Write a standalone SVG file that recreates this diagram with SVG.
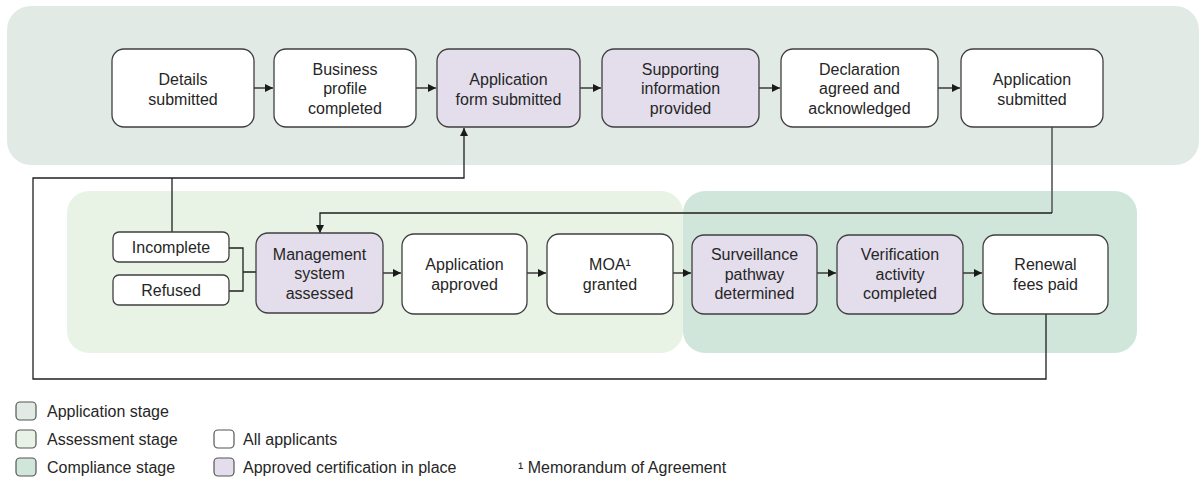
<svg xmlns="http://www.w3.org/2000/svg" width="1201" height="477" viewBox="0 0 1201 477">
<defs>
<marker id="ah" markerUnits="userSpaceOnUse" markerWidth="9" markerHeight="8" refX="8" refY="4" orient="auto">
<path d="M0,0 L8,4 L0,8 Z" fill="#1a1a1a"/>
</marker>
<style>
.n{stroke:#3f3f3f;stroke-width:1.3;fill:#ffffff}
.p{stroke:#3f3f3f;stroke-width:1.3;fill:#e3ddec}
.t{font-family:"Liberation Sans",Arial,sans-serif;font-size:16px;fill:#262626;text-anchor:middle}
.l{font-family:"Liberation Sans",Arial,sans-serif;font-size:16px;fill:#262626}
.c{fill:none;stroke:#1f1f1f;stroke-width:1.3}
.ca{fill:none;stroke:#1f1f1f;stroke-width:1.3;marker-end:url(#ah)}
.ls{stroke:#555;stroke-width:1.2}
</style>
</defs>
<rect width="1201" height="477" fill="#ffffff"/>
<g id="stages">
<rect id="application-stage" x="7" y="6" width="1192" height="159" rx="24" fill="#e2eae5"/>
<rect id="assessment-stage" x="67" y="191" width="616" height="162" rx="22" fill="#e8f3e6"/>
<rect id="compliance-stage" x="683" y="191" width="454" height="162" rx="22" fill="#d1e6db"/>
</g>
<g id="connectors">
<path class="ca" d="M254,88 H273"/>
<path class="ca" d="M416,88 H436"/>
<path class="ca" d="M580,88 H601"/>
<path class="ca" d="M759,88 H780"/>
<path class="ca" d="M938,88 H960"/>
<path class="ca" d="M383,273 H401"/>
<path class="ca" d="M527,273 H546"/>
<path class="ca" d="M673,273 H691"/>
<path class="ca" d="M817,273 H836"/>
<path class="ca" d="M963,273 H982"/>
<path class="ca" d="M1046,314 V379 H33 V178 H464 V128"/>
<path class="c" d="M172,232 V178"/>
<path class="c" d="M229,248 H243 V291 H229 M243,272 H256"/>
<path fill="none" stroke="#6a6a6a" stroke-width="1.8" d="M1052,127 V213"/>
<path class="ca" d="M1052,213 H320 V233"/>
</g>
<g id="n-details"><rect class="n" x="112" y="49" width="142" height="78" rx="12"/><text class="t"><tspan x="183" y="84.5">Details</tspan><tspan x="183" y="104.5">submitted</tspan></text></g>
<g id="n-business"><rect class="n" x="274" y="49" width="142" height="78" rx="12"/><text class="t"><tspan x="345" y="74.5">Business</tspan><tspan x="345" y="94">profile</tspan><tspan x="345" y="113.5">completed</tspan></text></g>
<g id="n-appform"><rect class="p" x="437" y="49" width="143" height="78" rx="12"/><text class="t"><tspan x="508.5" y="84.5">Application</tspan><tspan x="508.5" y="104.5">form submitted</tspan></text></g>
<g id="n-supporting"><rect class="p" x="602" y="49" width="157" height="78" rx="12"/><text class="t"><tspan x="680.5" y="74.5">Supporting</tspan><tspan x="680.5" y="94">information</tspan><tspan x="680.5" y="113.5">provided</tspan></text></g>
<g id="n-declaration"><rect class="n" x="781" y="49" width="157" height="78" rx="12"/><text class="t"><tspan x="859.5" y="74.5">Declaration</tspan><tspan x="859.5" y="94">agreed and</tspan><tspan x="859.5" y="113.5">acknowledged</tspan></text></g>
<g id="n-appsubmitted"><rect class="n" x="961" y="49" width="142" height="78" rx="12"/><text class="t"><tspan x="1032" y="84.5">Application</tspan><tspan x="1032" y="104.5">submitted</tspan></text></g>
<g id="n-incomplete"><rect class="n" x="113" y="232" width="116" height="30" rx="6"/><text class="t" x="171" y="253">Incomplete</text></g>
<g id="n-refused"><rect class="n" x="113" y="275" width="116" height="30" rx="6"/><text class="t" x="171" y="296">Refused</text></g>
<g id="n-management"><rect class="p" x="256" y="233" width="127" height="80" rx="12"/><text class="t"><tspan x="319.5" y="259.5">Management</tspan><tspan x="319.5" y="279">system</tspan><tspan x="319.5" y="298.5">assessed</tspan></text></g>
<g id="n-approved"><rect class="n" x="402" y="234" width="125" height="80" rx="12"/><text class="t"><tspan x="464.5" y="270">Application</tspan><tspan x="464.5" y="290">approved</tspan></text></g>
<g id="n-moa"><rect class="n" x="547" y="234" width="126" height="80" rx="12"/><text class="t"><tspan x="610" y="270">MOA¹</tspan><tspan x="610" y="290">granted</tspan></text></g>
<g id="n-surveillance"><rect class="p" x="692" y="235" width="125" height="79" rx="12"/><text class="t"><tspan x="754.5" y="260">Surveillance</tspan><tspan x="754.5" y="279.5">pathway</tspan><tspan x="754.5" y="299">determined</tspan></text></g>
<g id="n-verification"><rect class="p" x="837" y="235" width="126" height="79" rx="12"/><text class="t"><tspan x="900" y="260">Verification</tspan><tspan x="900" y="279.5">activity</tspan><tspan x="900" y="299">completed</tspan></text></g>
<g id="n-renewal"><rect class="n" x="983" y="235" width="125" height="79" rx="12"/><text class="t"><tspan x="1045.5" y="270">Renewal</tspan><tspan x="1045.5" y="290">fees paid</tspan></text></g>
<g id="legend">
<rect class="ls" x="16" y="402" width="20" height="18" rx="4" fill="#e2eae5"/>
<text class="l" x="47" y="417">Application stage</text>
<rect class="ls" x="16" y="430" width="20" height="18" rx="4" fill="#e8f3e6"/>
<text class="l" x="47" y="445">Assessment stage</text>
<rect class="ls" x="16" y="458" width="20" height="18" rx="4" fill="#d1e6db"/>
<text class="l" x="47" y="473">Compliance stage</text>
<rect class="ls" x="214" y="430" width="20" height="18" rx="4" fill="#ffffff"/>
<text class="l" x="243" y="445">All applicants</text>
<rect class="ls" x="214" y="458" width="20" height="18" rx="4" fill="#e3ddec"/>
<text class="l" x="243" y="473">Approved certification in place</text>
<text class="l" x="518" y="473">¹ Memorandum of Agreement</text>
</g>
</svg>
